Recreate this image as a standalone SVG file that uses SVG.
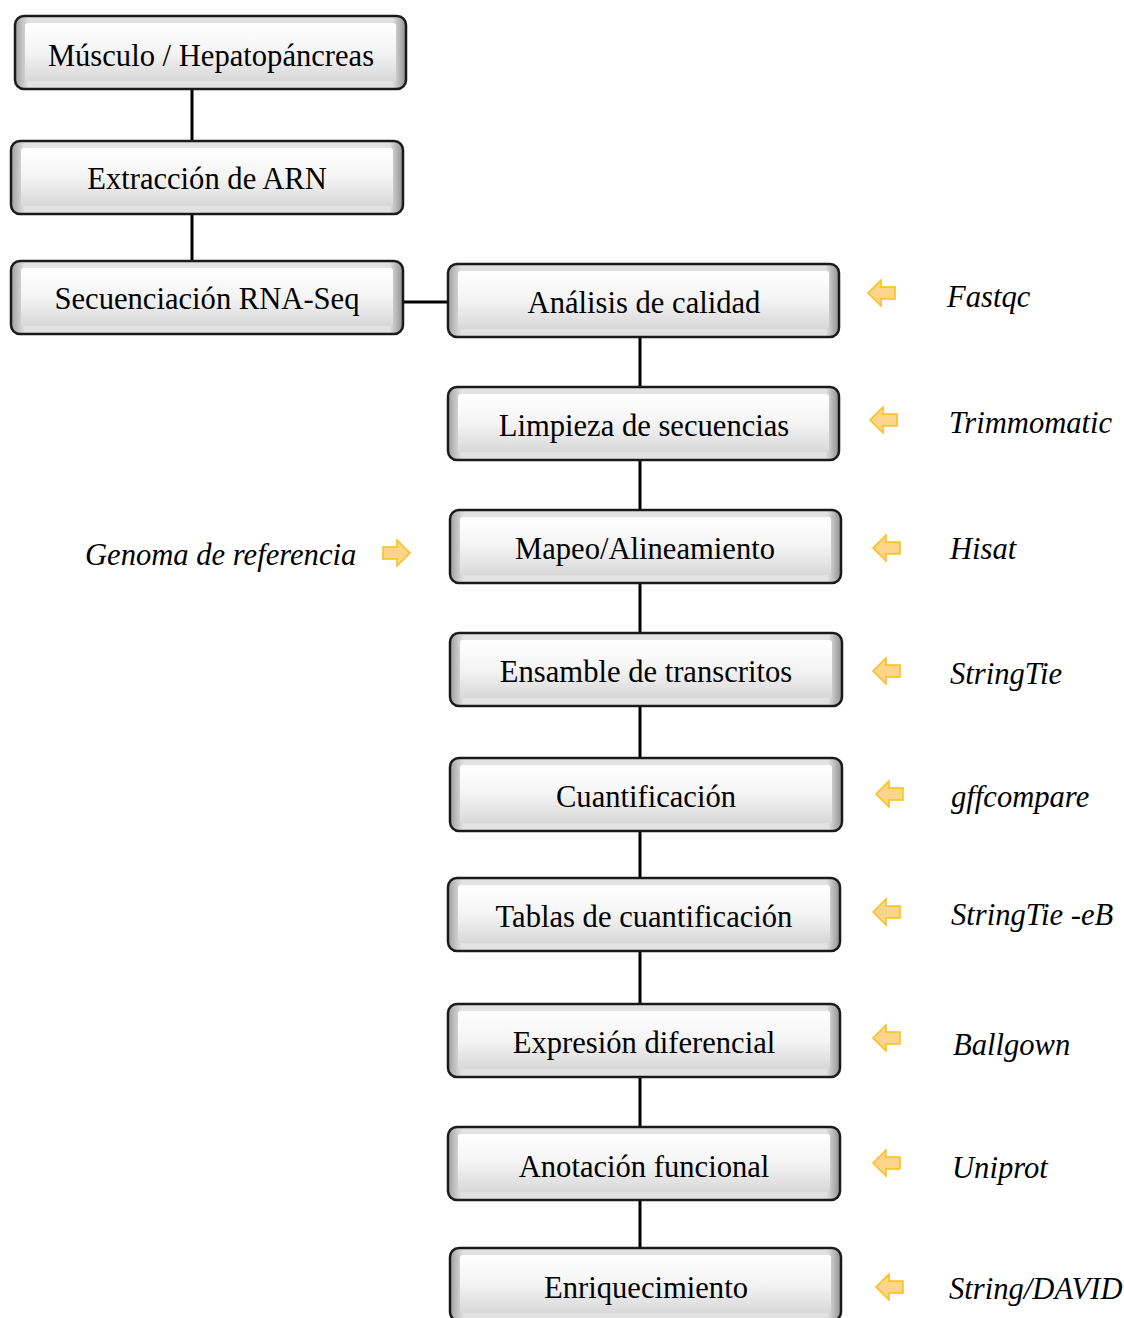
<svg xmlns="http://www.w3.org/2000/svg" width="1124" height="1318" viewBox="0 0 1124 1318">
<style>
.o{fill:url(#side);stroke:#1a1a1a;stroke-width:2.5}
.i{fill:url(#face)}
.t{font-family:"Liberation Serif",serif;font-size:30.6px;fill:#000;text-anchor:middle}
.l{font-family:"Liberation Serif",serif;font-size:30.6px;font-style:italic;fill:#000}
.c{stroke:#000;stroke-width:3;fill:none}
.a{fill:#fdd588;stroke:#f7be1e;stroke-width:1.5}
</style>
<defs>
<linearGradient id="side" x1="0" y1="0" x2="1" y2="0">
<stop offset="0" stop-color="#a0a0a0"/><stop offset="0.035" stop-color="#e2e2e2"/><stop offset="0.965" stop-color="#e2e2e2"/><stop offset="1" stop-color="#909090"/>
</linearGradient>
<linearGradient id="face" x1="0" y1="0" x2="0" y2="1">
<stop offset="0" stop-color="#ffffff"/><stop offset="0.5" stop-color="#f4f4f4"/><stop offset="1" stop-color="#d8d8d8"/>
</linearGradient>
<path id="la" d="M0,0 L13,-13 L13,-6 L27,-6 L27,6 L13,6 L13,13 Z"/>
<path id="ra" d="M27,0 L14,-13 L14,-6 L0,-6 L0,6 L14,6 L14,13 Z"/>
</defs>
<g id="connectors">
<line class="c" x1="192" y1="89" x2="192" y2="141"/>
<line class="c" x1="192" y1="214" x2="192" y2="261"/>
<line class="c" x1="403" y1="302" x2="448" y2="302"/>
<line class="c" x1="640" y1="337" x2="640" y2="387"/>
<line class="c" x1="640" y1="460" x2="640" y2="510"/>
<line class="c" x1="640" y1="583" x2="640" y2="633"/>
<line class="c" x1="640" y1="706" x2="640" y2="758"/>
<line class="c" x1="640" y1="831" x2="640" y2="878"/>
<line class="c" x1="640" y1="951" x2="640" y2="1004"/>
<line class="c" x1="640" y1="1077" x2="640" y2="1127"/>
<line class="c" x1="640" y1="1200" x2="640" y2="1248"/>
</g>
<g id="n1"><rect class="o" x="15" y="16" width="391" height="73" rx="9"/><rect class="i" x="25" y="23" width="371" height="58" rx="3"/><text class="t" x="211" y="65.5">Músculo / Hepatopáncreas</text></g>
<g id="n2"><rect class="o" x="11" y="141" width="392" height="73" rx="9"/><rect class="i" x="21" y="148" width="372" height="58" rx="3"/><text class="t" x="207" y="188.5">Extracción de ARN</text></g>
<g id="n3"><rect class="o" x="11" y="261" width="392" height="73" rx="9"/><rect class="i" x="21" y="268" width="372" height="58" rx="3"/><text class="t" x="207" y="308.5">Secuenciación RNA-Seq</text></g>
<g id="n4"><rect class="o" x="448" y="264" width="391" height="73" rx="9"/><rect class="i" x="458" y="271" width="371" height="58" rx="3"/><text class="t" x="644" y="312.5">Análisis de calidad</text></g>
<g id="n5"><rect class="o" x="448" y="387" width="391" height="73" rx="9"/><rect class="i" x="458" y="394" width="371" height="58" rx="3"/><text class="t" x="644" y="435.5">Limpieza de secuencias</text></g>
<g id="n6"><rect class="o" x="450" y="510" width="391" height="73" rx="9"/><rect class="i" x="460" y="517" width="371" height="58" rx="3"/><text class="t" x="645" y="558.5">Mapeo/Alineamiento</text></g>
<g id="n7"><rect class="o" x="450" y="633" width="392" height="73" rx="9"/><rect class="i" x="460" y="640" width="372" height="58" rx="3"/><text class="t" x="646" y="681.5">Ensamble de transcritos</text></g>
<g id="n8"><rect class="o" x="450" y="758" width="392" height="73" rx="9"/><rect class="i" x="460" y="765" width="372" height="58" rx="3"/><text class="t" x="646" y="806.5">Cuantificación</text></g>
<g id="n9"><rect class="o" x="448" y="878" width="392" height="73" rx="9"/><rect class="i" x="458" y="885" width="372" height="58" rx="3"/><text class="t" x="644" y="926.5">Tablas de cuantificación</text></g>
<g id="n10"><rect class="o" x="448" y="1004" width="392" height="73" rx="9"/><rect class="i" x="458" y="1011" width="372" height="58" rx="3"/><text class="t" x="644" y="1052.5">Expresión diferencial</text></g>
<g id="n11"><rect class="o" x="448" y="1127" width="392" height="73" rx="9"/><rect class="i" x="458" y="1134" width="372" height="58" rx="3"/><text class="t" x="644" y="1176.5">Anotación funcional</text></g>
<g id="n12"><rect class="o" x="450" y="1248" width="391" height="73" rx="9"/><rect class="i" x="460" y="1255" width="371" height="58" rx="3"/><text class="t" x="646" y="1297.5">Enriquecimiento</text></g>
<g id="tools">
<use href="#la" class="a" x="868" y="293"/><text class="l" x="947" y="306.5">Fastqc</text>
<use href="#la" class="a" x="870" y="420"/><text class="l" x="949" y="432.5">Trimmomatic</text>
<use href="#la" class="a" x="873" y="548"/><text class="l" x="950" y="558.5">Hisat</text>
<use href="#la" class="a" x="873" y="671"/><text class="l" x="950" y="683.5">StringTie</text>
<use href="#la" class="a" x="876" y="794"/><text class="l" x="951" y="806.5">gffcompare</text>
<use href="#la" class="a" x="873" y="912"/><text class="l" x="951" y="924.5">StringTie -eB</text>
<use href="#la" class="a" x="873" y="1038"/><text class="l" x="953" y="1054.5">Ballgown</text>
<use href="#la" class="a" x="873" y="1163"/><text class="l" x="952" y="1177.5">Uniprot</text>
<use href="#la" class="a" x="876" y="1287"/><text class="l" x="949" y="1298.5">String/DAVID</text>
<use href="#ra" class="a" x="383" y="553"/><text class="l" x="85" y="564.5">Genoma de referencia</text>
</g>
</svg>
